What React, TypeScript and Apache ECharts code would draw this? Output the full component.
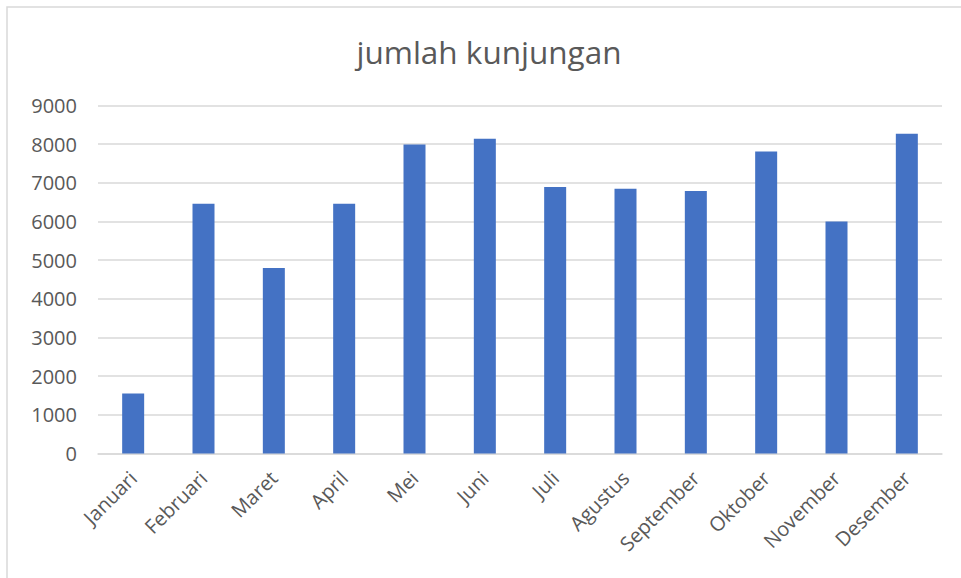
import React, { useEffect, useRef } from "react";
import * as echarts from "echarts";

const titleText = "jumlah kunjungan";
const months = [
  "Januari", "Februari", "Maret", "April", "Mei", "Juni",
  "Juli", "Agustus", "September", "Oktober", "November", "Desember",
];
const visits = [1550, 6460, 4800, 6460, 7990, 8140, 6890, 6850, 6790, 7810, 6000, 8270];
const yMin = 0;
const yMax = 9000;
const yStep = 1000;

export default function App() {
  const ref = useRef<HTMLDivElement>(null);
  useEffect(() => {
    if (!ref.current) return;
    const chart = echarts.init(ref.current, undefined, { renderer: "svg" });
    chart.setOption({
      animation: false,
      backgroundColor: "#ffffff",
      graphic: [
        {
          type: "rect",
          shape: { x: 7, y: 7, width: 1000, height: 600 },
          style: { fill: "none", stroke: "#d9d9d9", lineWidth: 1.5 },
          silent: true,
        },
        {
          type: "text",
          x: 489,
          y: 51,
          style: {
            text: titleText,
            fontFamily: "Open Sans",
            fontSize: 31.5,
            fill: "#595959",
            textAlign: "center",
            textVerticalAlign: "middle",
          },
        },
      ],
      grid: { left: 98, right: 19, top: 105.5, bottom: 124.5, containLabel: false },
      xAxis: {
        type: "category",
        data: months,
        axisLine: { show: true, lineStyle: { color: "#d9d9d9", width: 1.5 } },
        axisTick: { show: false },
        axisLabel: {
          rotate: 45,
          interval: 0,
          margin: 21,
          fontFamily: "Open Sans",
          fontSize: 20,
          color: "#595959",
        },
      },
      yAxis: {
        type: "value",
        min: yMin,
        max: yMax,
        interval: yStep,
        axisLine: { show: false },
        axisTick: { show: false },
        splitLine: { lineStyle: { color: "#d9d9d9", width: 1.5 } },
        axisLabel: {
          margin: 21,
          fontFamily: "Open Sans",
          fontSize: 20,
          color: "#595959",
          formatter: (v: number) => String(v),
        },
      },
      series: [
        {
          type: "bar",
          data: visits,
          barWidth: 22,
          itemStyle: { color: "#4472C4" },
        },
      ],
    });
    return () => chart.dispose();
  }, []);
  return (
    <div
      ref={ref}
      style={{ position: "absolute", left: 0, top: 0, width: 961, height: 578 }}
    />
  );
}
